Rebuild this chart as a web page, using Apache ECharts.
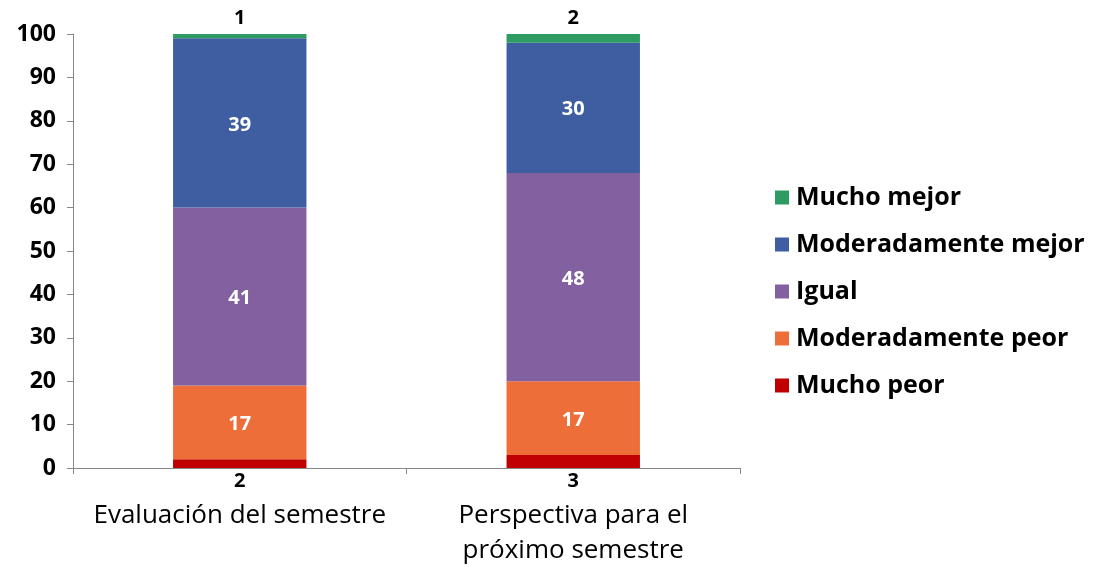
<!DOCTYPE html>
<html><head><meta charset="utf-8">
<script src="https://cdn.jsdelivr.net/npm/echarts@6/dist/echarts.min.js"></script>
<style>html,body{margin:0;padding:0;background:#fff}#c{width:1094px;height:567px}</style>
</head><body><div id="c"></div>
<script>
const categories = ['Evaluación del semestre', 'Perspectiva para el\npróximo semestre'];
const muchoPeor = [2, 3];
const moderadamentePeor = [17, 17];
const igual = [41, 48];
const moderadamenteMejor = [39, 30];
const muchoMejor = [1, 2];
const yTicks = [0, 10, 20, 30, 40, 50, 60, 70, 80, 90, 100];
const legendOrder = ['Mucho mejor', 'Moderadamente mejor', 'Igual', 'Moderadamente peor', 'Mucho peor'];

const font = '"Open Sans", Lato, sans-serif';
const inner = {show: true, position: 'inside', offset: [0, 2], color: '#fff', fontWeight: 'bold', fontSize: 20, fontFamily: font};
const outerLbl = {color: '#000', fontWeight: 'bold', fontSize: 20, fontFamily: font};
function s(name, data, color, label) {
  return {name, type: 'bar', stack: 't', data, barWidth: '40%', itemStyle: {color}, label};
}
const chart = echarts.init(document.getElementById('c'));
chart.setOption({
  animation: false,
  grid: {left: 73, right: 354, top: 34, bottom: 99, outerBoundsMode: 'none', containLabel: false},
  legend: {
    data: legendOrder, orient: 'vertical', left: 775, top: 185, itemGap: 22,
    itemWidth: 14, itemHeight: 14, icon: 'rect', padding: 0,
    textStyle: {fontSize: 25, fontWeight: 'bold', color: '#000', fontFamily: font, padding: [0, 0, 0, 2]}
  },
  xAxis: {
    type: 'category', data: categories,
    axisLine: {lineStyle: {color: '#888'}},
    axisTick: {show: true, length: 6, lineStyle: {color: '#888'}},
    axisLabel: {color: '#000', fontSize: 26, fontFamily: font, margin: 30, lineHeight: 35, interval: 0}
  },
  yAxis: {
    type: 'value', min: yTicks[0], max: yTicks[yTicks.length - 1], interval: 10,
    splitLine: {show: false},
    axisLine: {show: true, lineStyle: {color: '#888'}},
    axisTick: {show: true, length: 6, lineStyle: {color: '#888'}},
    axisLabel: {color: '#000', fontSize: 23, fontWeight: 'bold', fontFamily: font, margin: 17}
  },
  series: [
    s('Mucho peor', muchoPeor, '#C00000', Object.assign({show: true, position: 'bottom', distance: 3}, outerLbl)),
    s('Moderadamente peor', moderadamentePeor, '#EE6E3A', inner),
    s('Igual', igual, '#8360A0', inner),
    s('Moderadamente mejor', moderadamenteMejor, '#3F5EA2', inner),
    s('Mucho mejor', muchoMejor, '#2E9B63', Object.assign({show: true, position: 'top', distance: 6}, outerLbl))
  ]
});
</script></body></html>
